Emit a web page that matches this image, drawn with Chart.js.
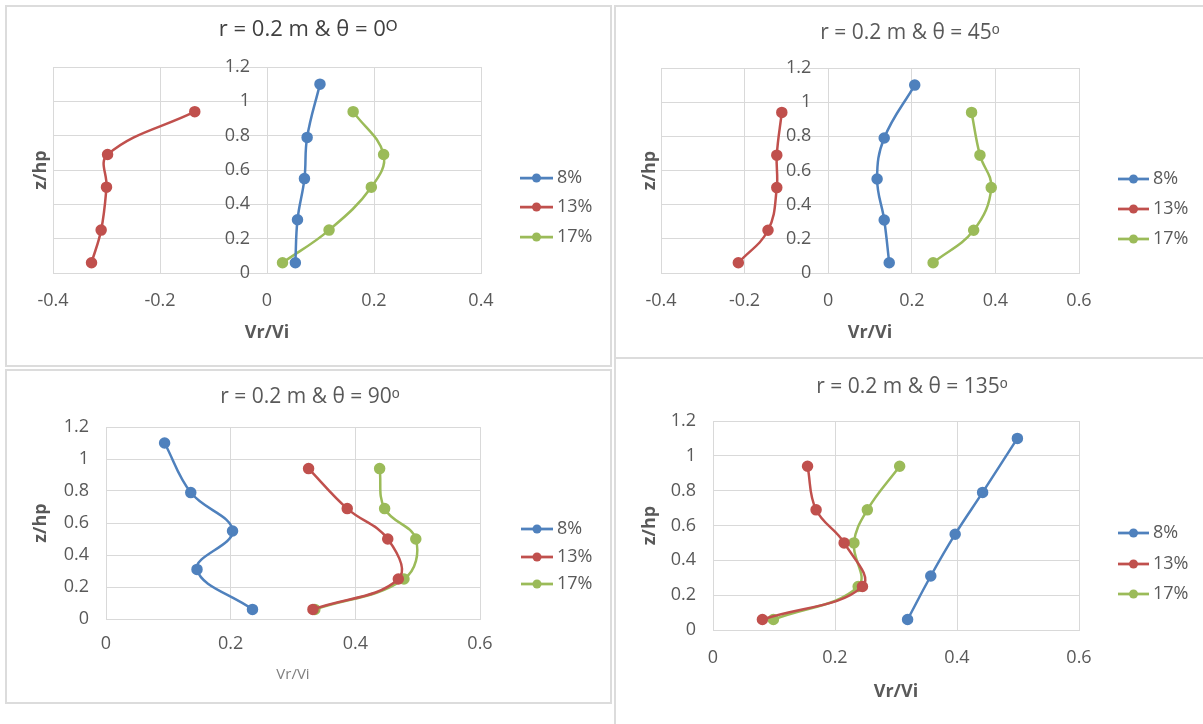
<!DOCTYPE html>
<html>
<head>
<meta charset="utf-8">
<script src="https://cdn.jsdelivr.net/npm/chart.js@4.4.1/dist/chart.umd.min.js"></script>
<style>
  html, body { margin: 0; padding: 0; background: #fff; overflow: hidden; }
  body { width: 1203px; height: 724px; position: relative; }
  .panel { position: absolute; box-sizing: border-box; border: 2px solid #dcdcdc; }
  canvas { position: absolute; }
</style>
</head>
<body>
<div class="panel" style="left:5px;top:5px;width:607px;height:362px"></div>
<div class="panel" style="left:614px;top:5px;width:600px;height:354px"></div>
<div class="panel" style="left:5px;top:369px;width:607px;height:335px"></div>
<div class="panel" style="left:614px;top:357px;width:600px;height:380px"></div>
<script>
const seriesNames = ['8%', '13%', '17%'];
const seriesColors = ['#4F81BD', '#C0504D', '#9BBB59'];

// z/hp of the measuring points
const zUpper = [1.1, 0.79, 0.55, 0.31, 0.06];   // 8% profile
const zLower = [0.94, 0.69, 0.5, 0.25, 0.06];   // 13% and 17% profiles
const yTicks = [0, 0.2, 0.4, 0.6, 0.8, 1, 1.2];

// theta = 0
const xTicks0 = [-0.4, -0.2, 0, 0.2, 0.4];
const vr0_8 = [0.099, 0.075, 0.070, 0.057, 0.053];
const vr0_13 = [-0.135, -0.298, -0.300, -0.310, -0.328];
const vr0_17 = [0.161, 0.218, 0.195, 0.116, 0.029];

// theta = 45
const xTicks45 = [-0.4, -0.2, 0, 0.2, 0.4, 0.6];
const vr45_8 = [0.207, 0.134, 0.117, 0.134, 0.146];
const vr45_13 = [-0.111, -0.123, -0.123, -0.144, -0.215];
const vr45_17 = [0.343, 0.363, 0.390, 0.348, 0.251];

// theta = 90
const xTicks90 = [0, 0.2, 0.4, 0.6];
const vr90_8 = [0.094, 0.136, 0.203, 0.146, 0.235];
const vr90_13 = [0.325, 0.387, 0.452, 0.469, 0.332];
const vr90_17 = [0.439, 0.447, 0.497, 0.478, 0.335];

// theta = 135
const xTicks135 = [0, 0.2, 0.4, 0.6];
const vr135_8 = [0.499, 0.442, 0.397, 0.357, 0.319];
const vr135_13 = [0.155, 0.169, 0.215, 0.245, 0.081];
const vr135_17 = [0.306, 0.253, 0.231, 0.238, 0.099];

const FONT = '"Open Sans", "Liberation Sans", sans-serif';
const GREY = '#595959';
const GRID = '#d9d9d9';
const Y_LABEL_GAP = 17; // px between the y tick labels and the x = 0 line

// page coordinates of each chart piece
const panels = [
  { title: 'r = 0.2 m & θ = 0ᴼ', titleSize: 22, titleColor: '#404040',
    canvas: [5, 5, 606, 362], area: [53, 67, 481, 273], titleY: 30, zX: 41, tickY: 301, xTitleY: 333,
    xTitleFont: { size: 18, weight: 'bold' }, xTicks: xTicks0,
    legend: { x1: 520, x2: 553, xt: 557, ys: [178, 207, 237] },
    values: [vr0_8, vr0_13, vr0_17] },
  { title: 'r = 0.2 m & θ = 45ᵒ', titleSize: 21, titleColor: GREY,
    canvas: [614, 5, 592, 354], area: [661, 68, 1079, 273], titleY: 33, zX: 650, tickY: 301, xTitleY: 333,
    xTitleFont: { size: 18, weight: 'bold' }, xTicks: xTicks45,
    legend: { x1: 1118, x2: 1149, xt: 1153, ys: [179, 209, 239] },
    values: [vr45_8, vr45_13, vr45_17] },
  { title: 'r = 0.2 m & θ = 90ᵒ', titleSize: 21, titleColor: GREY,
    canvas: [5, 369, 610, 335], area: [106, 427, 480, 619], titleY: 397, zX: 41, tickY: 644, xTitleY: 675,
    xTitleFont: { size: 15, weight: 'normal' }, xTitleColor: '#7f7f7f', xTicks: xTicks90,
    legend: { x1: 521, x2: 553, xt: 557, ys: [529, 557, 584] },
    values: [vr90_8, vr90_13, vr90_17] },
  { title: 'r = 0.2 m & θ = 135ᵒ', titleSize: 21, titleColor: GREY,
    canvas: [614, 357, 596, 367], area: [713, 421, 1079, 630], titleY: 387, zX: 650, tickY: 658, xTitleY: 692,
    xTitleFont: { size: 18, weight: 'bold' }, xTicks: xTicks135,
    legend: { x1: 1118, x2: 1149, xt: 1153, ys: [533, 564, 594] },
    values: [vr135_8, vr135_13, vr135_17] }
];

// legend on the right: line + marker + label, like the spreadsheet one
const sideLegend = {
  id: 'sideLegend',
  afterDraw(chart, args, o) {
    const ctx = chart.ctx;
    ctx.save();
    chart.data.datasets.forEach((ds, i) => {
      const y = o.ys[i];
      ctx.strokeStyle = ds.borderColor;
      ctx.lineWidth = 2.75;
      ctx.beginPath();
      ctx.moveTo(o.x1, y);
      ctx.lineTo(o.x2, y);
      ctx.stroke();
      ctx.fillStyle = ds.borderColor;
      ctx.beginPath();
      ctx.arc((o.x1 + o.x2) / 2, y, 4.5, 0, Math.PI * 2);
      ctx.fill();
      ctx.fillStyle = GREY;
      ctx.font = '18px ' + FONT;
      ctx.textBaseline = 'middle';
      ctx.textAlign = 'left';
      ctx.fillText(ds.label, o.xt, y);
    });
    ctx.restore();
  }
};

function makeChart(p) {
  const [cx, cy, w, h] = p.canvas;
  const cv = document.createElement('canvas');
  cv.width = w;
  cv.height = h;
  cv.style.left = cx + 'px';
  cv.style.top = cy + 'px';
  cv.style.width = w + 'px';
  cv.style.height = h + 'px';
  document.body.appendChild(cv);

  const xMin = p.xTicks[0];
  const xMax = p.xTicks[p.xTicks.length - 1];
  const leftW = p.area[0] - cx;
  const rightW = w - (p.area[2] - cx);
  const chartTop = p.area[1] - cy;
  const xAxisH = h - (p.area[3] - cy);
  const titleLh = p.titleSize * 1.2;
  const titleMid = p.titleY - cy;
  const xTitleLh = p.xTitleFont.size * 1.2;
  // the value axis crosses at x = 0; its labels sit a little left of that line
  const pxPerUnit = (p.area[2] - p.area[0]) / (xMax - xMin);
  const labelAnchor = -Y_LABEL_GAP / pxPerUnit;

  const datasets = p.values.map((vals, i) => ({
    label: seriesNames[i],
    data: vals.map((v, j) => ({ x: v, y: i === 0 ? zUpper[j] : zLower[j] })),
    borderColor: seriesColors[i],
    backgroundColor: seriesColors[i],
    pointBackgroundColor: seriesColors[i],
    pointBorderColor: seriesColors[i],
    pointRadius: 4.5,
    borderWidth: 2.5,
    tension: 0.4,
    xAxisID: 'x',
    yAxisID: 'y'
  }));

  new Chart(cv, {
    type: 'line',
    data: { datasets },
    options: {
      responsive: false,
      animation: false,
      devicePixelRatio: 1,
      layout: { padding: 0 },
      plugins: {
        legend: { display: false },
        tooltip: { enabled: false },
        title: {
          display: true,
          text: p.title,
          color: p.titleColor,
          font: { family: FONT, size: p.titleSize, weight: 'normal' },
          padding: { top: titleMid - titleLh / 2, bottom: chartTop - titleMid - titleLh / 2 }
        },
        sideLegend: {
          x1: p.legend.x1 - cx, x2: p.legend.x2 - cx, xt: p.legend.xt - cx,
          ys: p.legend.ys.map(v => v - cy)
        }
      },
      scales: {
        x: {
          type: 'linear',
          position: 'bottom',
          min: xMin,
          max: xMax,
          afterBuildTicks: s => { s.ticks = p.xTicks.map(v => ({ value: v })); },
          afterFit: s => { s.height = xAxisH; },
          grid: { color: GRID, drawTicks: false },
          border: { color: GRID },
          ticks: {
            color: GREY, font: { family: FONT, size: 18 },
            padding: p.tickY - p.area[3] - 10.8,
            maxRotation: 0, autoSkip: false,
            callback: v => String(v)
          },
          title: {
            display: true, text: 'Vr/Vi',
            color: p.xTitleColor || GREY,
            font: { family: FONT, size: p.xTitleFont.size, weight: p.xTitleFont.weight },
            padding: { top: 0, bottom: h - (p.xTitleY - cy) - xTitleLh / 2 }
          }
        },
        y: {
          type: 'linear',
          axis: 'y',
          position: { x: labelAnchor },
          min: 0,
          max: 1.2,
          afterBuildTicks: s => { s.ticks = yTicks.map(v => ({ value: v })); },
          grid: { color: GRID, drawTicks: false },
          border: { display: false },
          ticks: {
            color: GREY, font: { family: FONT, size: 18 },
            callback: v => String(v)
          }
        },
        yt: {
          type: 'linear',
          axis: 'y',
          position: 'left',
          afterFit: s => { s.width = leftW; },
          grid: { display: false, drawTicks: false },
          border: { display: false },
          ticks: { display: false },
          title: {
            display: true, text: 'z/hp', color: GREY,
            font: { family: FONT, size: 18, weight: 'bold' },
            padding: { top: p.zX - cx - 10.8, bottom: 0 }
          }
        },
        yr: {
          type: 'linear',
          axis: 'y',
          position: 'right',
          afterFit: s => { s.width = rightW; },
          grid: { display: false, drawTicks: false },
          border: { display: false },
          ticks: { display: false }
        }
      }
    },
    plugins: [sideLegend]
  });
}

panels.forEach(makeChart);
</script>
</body>
</html>
